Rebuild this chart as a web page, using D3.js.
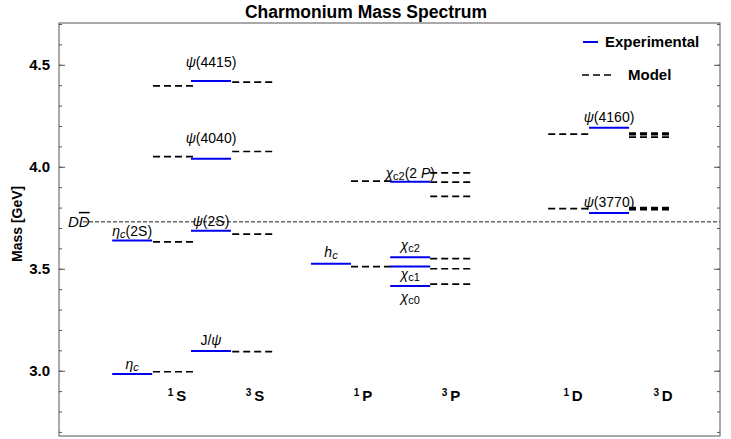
<!DOCTYPE html>
<html><head><meta charset="utf-8">
<script src="https://cdn.jsdelivr.net/npm/d3@7"></script>
<style>body{margin:0;background:#fff;font-family:"Liberation Sans",Arial,sans-serif}</style>
</head><body><svg id="c" width="731" height="439"></svg>
<script>
// slots (x in units of one level width)
var expLevels = [
  {x: 1.33, m: 2.984}, {x: 1.33, m: 3.638},
  {x: 3.3, m: 3.097}, {x: 3.3, m: 3.686}, {x: 3.3, m: 4.039}, {x: 3.3, m: 4.421},
  {x: 6.3, m: 3.525},
  {x: 8.28, m: 3.415}, {x: 8.28, m: 3.511}, {x: 8.28, m: 3.556}, {x: 8.28, m: 3.927},
  {x: 13.25, m: 3.773}, {x: 13.25, m: 4.191}
];
var modelLevels = [
  {x: 2.35, m: 2.995}, {x: 2.35, m: 3.632}, {x: 2.35, m: 4.05}, {x: 2.35, m: 4.397},
  {x: 4.33, m: 3.094}, {x: 4.33, m: 3.67}, {x: 4.33, m: 4.075}, {x: 4.33, m: 4.415},
  {x: 7.3, m: 3.51}, {x: 7.3, m: 3.93},
  {x: 9.28, m: 3.425}, {x: 9.28, m: 3.50}, {x: 9.28, m: 3.55},
  {x: 9.28, m: 3.855}, {x: 9.28, m: 3.925}, {x: 9.28, m: 3.97},
  {x: 12.23, m: 3.795}, {x: 12.23, m: 4.16},
  {x: 14.25, m: 3.79}, {x: 14.25, m: 3.797}, {x: 14.25, m: 3.80},
  {x: 14.25, m: 4.145}, {x: 14.25, m: 4.157}, {x: 14.25, m: 4.165}
];
var waveLabels = [
  {x: 2.95, t: "1", s: "S"}, {x: 4.9, t: "3", s: "S"}, {x: 7.6, t: "1", s: "P"},
  {x: 9.8, t: "3", s: "P"}, {x: 12.85, t: "1", s: "D"}, {x: 15.1, t: "3", s: "D"}
];
var yTicks = [3.0, 3.5, 4.0, 4.5];
var threshold = 3.73;

var svg = d3.select("#c");
var L = 59, R = 720, T = 23, B = 436;
var x = d3.scaleLinear().domain([0, 16.525]).range([L, R]);
var y = d3.scaleLinear().domain([2.68, 4.705]).range([B, T]);
var w = x(1) - x(0);

svg.append("text").attr("x", 366).attr("y", 18).attr("text-anchor", "middle")
  .attr("font-weight", "bold").attr("font-size", 17.5).text("Charmonium Mass Spectrum");

svg.append("rect").attr("x", L).attr("y", T).attr("width", R - L).attr("height", B - T)
  .attr("fill", "none").attr("stroke", "#555").attr("stroke-width", 1);

var minor = d3.range(2.7, 4.71, 0.1);
svg.append("g").attr("transform", "translate(" + L + ",0)")
  .call(d3.axisLeft(y).tickValues(minor).tickSize(-3).tickFormat(""))
  .call(function(g){ g.select(".domain").remove(); });
svg.append("g").attr("transform", "translate(" + L + ",0)")
  .call(d3.axisLeft(y).tickValues(yTicks).tickSize(-6).tickPadding(9).tickFormat(d3.format(".1f")))
  .call(function(g){ g.select(".domain").remove();
    g.selectAll("text").attr("font-weight", "bold").attr("font-size", 15).attr("font-family", "Liberation Sans, Arial"); });
svg.append("g").attr("transform", "translate(" + R + ",0)")
  .call(d3.axisRight(y).tickValues(minor).tickSize(-3).tickFormat(""))
  .call(function(g){ g.select(".domain").remove(); });
svg.append("g").attr("transform", "translate(" + R + ",0)")
  .call(d3.axisRight(y).tickValues(yTicks).tickSize(-6).tickFormat(""))
  .call(function(g){ g.select(".domain").remove(); });
svg.selectAll(".tick line").attr("stroke", "#555");

svg.append("text").attr("transform", "translate(22," + y(3.72) + ") rotate(-90)")
  .attr("text-anchor", "middle").attr("font-weight", "bold").attr("font-size", 14).text("Mass [GeV]");

// threshold
svg.append("line").attr("x1", x(0.6)).attr("x2", R).attr("y1", y(threshold)).attr("y2", y(threshold))
  .attr("stroke", "#666").attr("stroke-width", 1.5).attr("stroke-dasharray", "4,2");
var dd = svg.append("text").attr("x", 68).attr("y", y(threshold) + 5).attr("font-size", 15).attr("font-style", "italic");
dd.append("tspan").text("D");
dd.append("tspan").attr("text-decoration", "overline").text("D");

svg.selectAll(".model").data(modelLevels).enter().append("line")
  .attr("x1", function(d){ return x(d.x); }).attr("x2", function(d){ return x(d.x) + w; })
  .attr("y1", function(d){ return y(d.m); }).attr("y2", function(d){ return y(d.m); })
  .attr("stroke", "#000").attr("stroke-width", 1.7).attr("stroke-dasharray", "7,4");
svg.selectAll(".exp").data(expLevels).enter().append("line")
  .attr("x1", function(d){ return x(d.x); }).attr("x2", function(d){ return x(d.x) + w; })
  .attr("y1", function(d){ return y(d.m); }).attr("y2", function(d){ return y(d.m); })
  .attr("stroke", "#0000ee").attr("stroke-width", 2);

// state labels
var names = [
  {x: 1.33, m: 2.984, p: ["ηc"], dy: -5},
  {x: 1.33, m: 3.638, p: ["ηc", "(2S)"], dy: -5},
  {x: 3.3, m: 3.097, p: ["J/ψ"], dy: -6},
  {x: 3.3, m: 3.686, p: ["ψ", "(2S)"], dy: -5},
  {x: 3.3, m: 4.039, p: ["ψ", "(4040)"], dy: -16},
  {x: 3.3, m: 4.421, p: ["ψ", "(4415)"], dy: -14},
  {x: 6.3, m: 3.525, p: ["hc"], dy: -7},
  {x: 8.28, m: 3.556, p: ["χc2"], dy: -7},
  {x: 8.28, m: 3.511, p: ["χc1"], dy: 12},
  {x: 8.28, m: 3.415, p: ["χc0"], dy: 16},
  {x: 8.28, m: 3.927, p: ["χc2", "(2 P)"], dy: -4},
  {x: 13.25, m: 3.773, p: ["ψ", "(3770)"], dy: -6},
  {x: 13.25, m: 4.191, p: ["ψ", "(4160)"], dy: -6}
];
names.forEach(function(n){
  var t = svg.append("text").attr("x", x(n.x) + w / 2).attr("y", y(n.m) + n.dy)
    .attr("text-anchor", "middle").attr("font-size", 14);
  var s = n.p[0];
  if (s === "J/ψ") { t.append("tspan").text("J/"); t.append("tspan").attr("font-style", "italic").text("ψ"); }
  else {
    t.append("tspan").attr("font-style", "italic").text(s[0]);
    if (s.length > 1) t.append("tspan").attr("font-size", 11).attr("dy", 2).attr("font-style", s[0] === "χ" ? "normal" : "italic").text(s.slice(1));
  }
  if (n.p[1]) {
    var tp = t.append("tspan").attr("dy", s.length > 1 ? -2 : 0);
    if (n.p[1] === "(2 P)") { tp.text("(2 "); t.append("tspan").attr("font-style", "italic").text("P"); t.append("tspan").text(")"); }
    else tp.text(n.p[1]);
  }
});

waveLabels.forEach(function(d){
  var t = svg.append("text").attr("x", x(d.x)).attr("y", 401).attr("text-anchor", "middle")
    .attr("font-weight", "bold").attr("font-size", 15);
  t.append("tspan").attr("font-size", 10).attr("dy", -5).text(d.t + " ");
  t.append("tspan").attr("dy", 5).text(d.s);
});

// legend
svg.append("line").attr("x1", 583).attr("x2", 598).attr("y1", 42).attr("y2", 42).attr("stroke", "#0000ee").attr("stroke-width", 2);
svg.append("text").attr("x", 605).attr("y", 47).attr("font-weight", "bold").attr("font-size", 15).text("Experimental");
svg.append("line").attr("x1", 582).attr("x2", 612).attr("y1", 75).attr("y2", 75).attr("stroke", "#000").attr("stroke-width", 1.7).attr("stroke-dasharray", "7,4");
svg.append("text").attr("x", 628).attr("y", 80).attr("font-weight", "bold").attr("font-size", 15).text("Model");
</script></body></html>
